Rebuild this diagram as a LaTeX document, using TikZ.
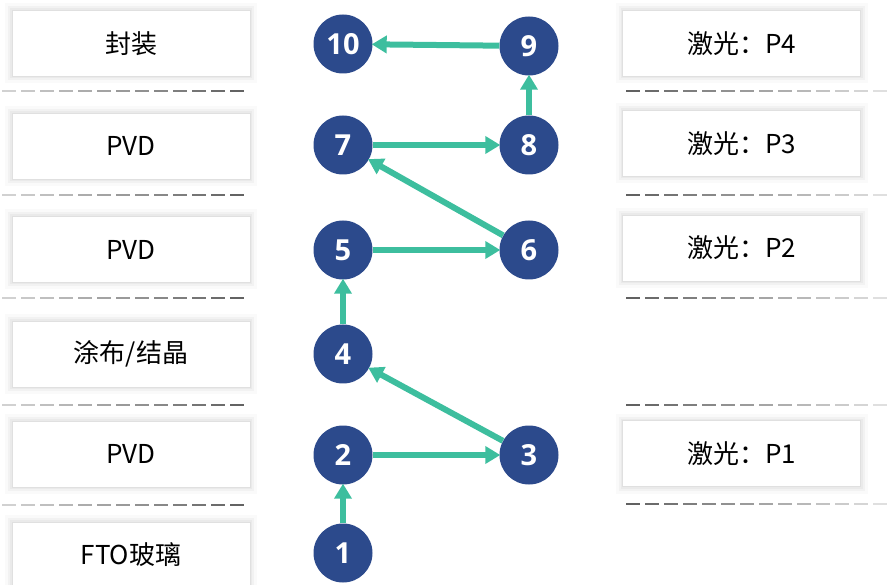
\documentclass[tikz,border=0pt]{standalone}
\usepackage{fontspec}
\setmainfont{Noto Sans CJK SC}
\newfontfamily\numfont{Open Sans}
\usetikzlibrary{arrows.meta}
\definecolor{circblue}{HTML}{2C4A8C}
\definecolor{arrteal}{HTML}{3DBE9E}
\tikzset{
  x=1pt, y=-1pt,
  procbox/.style={rectangle, minimum width=238pt, minimum height=66pt, fill=white,
    draw=black!12, line width=0.6pt, font=\fontsize{26}{30}\selectfont, inner sep=0pt,
    preaction={draw=black, opacity=0.02, line width=14pt},
    preaction={draw=black, opacity=0.03, line width=8pt},
    preaction={draw=black, opacity=0.03, line width=4pt}},
  stepnum/.style={circle, minimum size=59pt, inner sep=0pt, fill=circblue, text=white,
    font=\numfont\bfseries\fontsize{29}{30}\selectfont},
  flow/.style={draw=arrteal, line width=6pt, -{Triangle[length=15pt, width=17pt]}, shorten >=-1pt}
}
\begin{document}
\begin{tikzpicture}
\useasboundingbox (0,0) rectangle (892,585);
% dashed separators, left (fading to the left)
\foreach \yy in {91,195,298,405,505}{
  \foreach \i in {0,...,12}{
    \pgfmathsetmacro{\sh}{18+\i*3.6}
    \draw[black!\sh, line width=2.2pt] (2+19*\i,\yy) -- (16+19*\i,\yy);
  }
}
% dashed separators, right (fading to the right)
\foreach \yy in {91,195,298,405,504}{
  \foreach \i in {0,...,13}{
    \pgfmathsetmacro{\sh}{62-\i*3.8}
    \draw[black!\sh, line width=2.2pt] (626+19*\i,\yy) -- (640+19*\i,\yy);
  }
}
% left boxes
\node[procbox] (L1) at (131,43.5) {封装};
\node[procbox] (L2) at (131,146) {PVD};
\node[procbox] (L3) at (131,249.5) {PVD};
\node[procbox] (L4) at (131,354) {涂布/结晶};
\node[procbox] (L5) at (131,454) {PVD};
\node[procbox] (L6) at (131,555) {FTO玻璃};
% right boxes
\node[procbox] (R4) at (741.5,43.5) {激光：P4};
\node[procbox] (R3) at (741.5,143.5) {激光：P3};
\node[procbox] (R2) at (741.5,248) {激光：P2};
\node[procbox] (R1) at (741.5,453.5) {激光：P1};
% steps
\node[stepnum] (n1) at (343,553) {1};
\node[stepnum] (n2) at (343,455) {2};
\node[stepnum] (n3) at (529,455) {3};
\node[stepnum] (n4) at (343,354) {4};
\node[stepnum] (n5) at (343,250) {5};
\node[stepnum] (n6) at (529,250) {6};
\node[stepnum] (n7) at (343,145) {7};
\node[stepnum] (n8) at (529,145) {8};
\node[stepnum] (n9) at (529,46) {9};
\node[stepnum] (n10) at (343,44) {10};
% flow
\draw[flow] (n1) -- (n2);
\draw[flow] (n2) -- (n3);
\draw[flow] (n3) -- (n4);
\draw[flow] (n4) -- (n5);
\draw[flow] (n5) -- (n6);
\draw[flow] (n6) -- (n7);
\draw[flow] (n7) -- (n8);
\draw[flow] (n8) -- (n9);
\draw[flow] (n9) -- (n10);
\end{tikzpicture}
\end{document}
